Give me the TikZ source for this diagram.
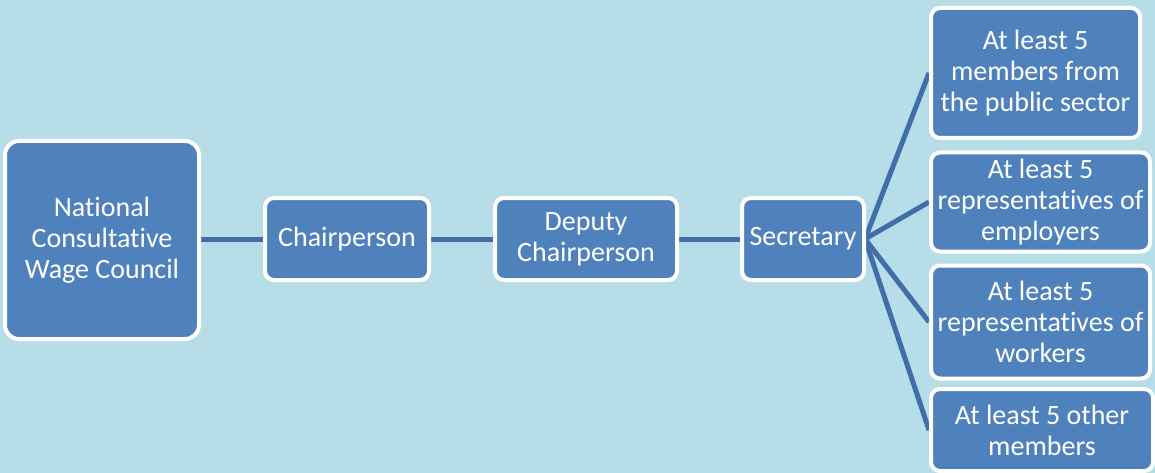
\documentclass[tikz,border=0pt]{standalone}
\usepackage{fontspec}
\setmainfont{Carlito}[Ligatures=NoCommon]
\usetikzlibrary{backgrounds}
\definecolor{bg}{HTML}{B7DDE8}
\definecolor{boxfill}{HTML}{4F81BD}
\definecolor{linkc}{HTML}{416EA8}
\begin{document}
\begin{tikzpicture}[x=1pt,y=-1pt,
  box/.style={draw=white, line width=4pt, fill=boxfill, rounded corners=9pt,
    text=white, align=center, font=\fontsize{28}{31}\selectfont, inner sep=0pt},
  link/.style={draw=linkc, line width=5pt}]
\useasboundingbox (0,0) rectangle (1155,473);
\node[box, rounded corners=14pt, minimum width=194pt, minimum height=198pt] (ncwc) at (102,240) {National\\Consultative\\Wage Council};
\node[box, minimum width=164pt, minimum height=82pt] (chair) at (347,239) {Chairperson};
\node[box, minimum width=182pt, minimum height=82pt] (deputy) at (586,239) {Deputy\\Chairperson};
\node[box, minimum width=122pt, minimum height=82pt] (sec) at (803,239) {Secretary};
\node[box, minimum width=209pt, minimum height=130pt] (m1) at (1035.5,73) {At least 5\\members from\\the public sector};
\node[box, minimum width=219pt, minimum height=99pt] (m2) at (1040.5,202) {At least 5\\representatives of\\employers};
\node[box, minimum width=219pt, minimum height=113pt] (m3) at (1040.5,322) {At least 5\\representatives of\\workers};
\node[box, minimum width=222pt, minimum height=82pt] (m4) at (1042,430) {At least 5 other\\members};
\begin{scope}[on background layer]
\fill[bg] (0,0) rectangle (1155,473);
\draw[link] (ncwc.east |- chair.west) -- (chair.west);
\draw[link] (chair.east) -- (deputy.west);
\draw[link] (deputy.east) -- (sec.west);
\coordinate (fan) at ([xshift=-1pt]sec.east);
\draw[link] (fan) -- (m1.west);
\draw[link] (fan) -- (m2.west);
\draw[link] (fan) -- (m3.west);
\draw[link] (fan) -- (m4.west);
\end{scope}
\end{tikzpicture}
\end{document}
